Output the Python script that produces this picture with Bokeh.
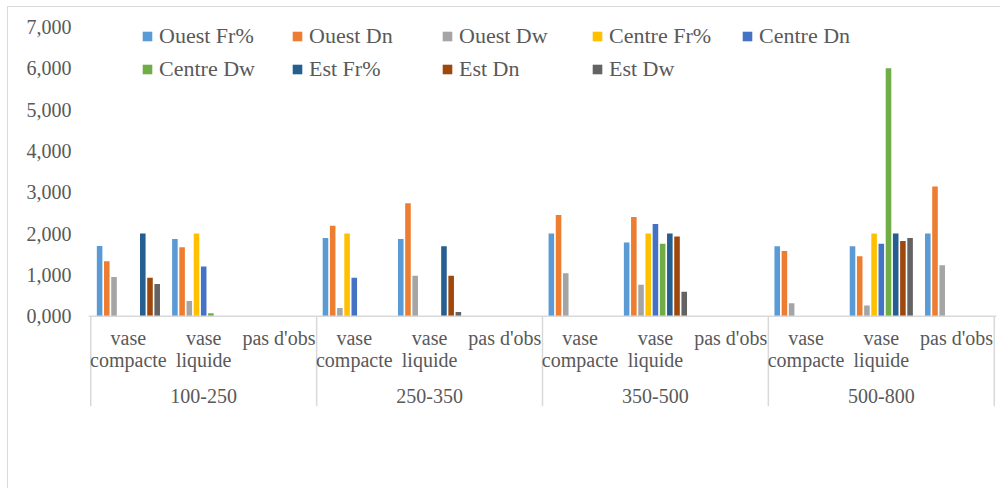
import math
from bokeh.plotting import figure
from bokeh.models import (Range1d, FixedTicker, CustomJSTickFormatter, Span,
                          Legend, LegendItem)
from bokeh.embed import file_html
from bokeh.resources import INLINE
from bokeh.core.properties import value

NaN = float("nan")

# ---------------- data ----------------
groups = ["100-250", "250-350", "350-500", "500-800"]
subcats = ["vase\ncompacte", "vase\nliquide", "pas d'obs"]

series = ["Ouest Fr%", "Ouest Dn", "Ouest Dw",
          "Centre Fr%", "Centre Dn", "Centre Dw",
          "Est Fr%", "Est Dn", "Est Dw"]
colors = ["#5B9BD5", "#ED7D31", "#A5A5A5",
          "#FFC000", "#4472C4", "#70AD47",
          "#255E91", "#9E480E", "#636363"]

# one value per (group, subcategory), in group order
ouest_fr = [1.70, 1.87, NaN, 1.89, 1.87, NaN, 2.00, 1.78, NaN, 1.69, 1.69, 2.00]
ouest_dn = [1.33, 1.67, NaN, 2.19, 2.73, NaN, 2.45, 2.40, NaN, 1.58, 1.45, 3.14]
ouest_dw = [0.95, 0.37, NaN, 0.20, 0.98, NaN, 1.04, 0.76, NaN, 0.31, 0.26, 1.23]
centre_fr = [NaN, 2.00, NaN, 2.00, NaN, NaN, NaN, 2.00, NaN, NaN, 2.00, NaN]
centre_dn = [NaN, 1.20, NaN, 0.93, NaN, NaN, NaN, 2.23, NaN, NaN, 1.75, NaN]
centre_dw = [NaN, 0.07, NaN, NaN, NaN, NaN, NaN, 1.75, NaN, NaN, 6.00, NaN]
est_fr = [2.00, NaN, NaN, NaN, 1.69, NaN, NaN, 2.00, NaN, NaN, 2.00, NaN]
est_dn = [0.93, NaN, NaN, NaN, 0.98, NaN, NaN, 1.93, NaN, NaN, 1.82, NaN]
est_dw = [0.78, NaN, NaN, NaN, 0.10, NaN, NaN, 0.59, NaN, NaN, 1.89, NaN]

values = [ouest_fr, ouest_dn, ouest_dw, centre_fr, centre_dn, centre_dw,
          est_fr, est_dn, est_dw]

y_ticks = [0, 1, 2, 3, 4, 5, 6, 7]

# ---------------- style ----------------
FONT = "Liberation Serif"
TXT = "#595959"
LINE = "#d9d9d9"

n_sub = len(subcats)
n_cat = len(groups) * n_sub
n_ser = len(series)
slot = 0.0956
bar_w = 0.074

p = figure(frame_width=908, frame_height=405,
           x_range=Range1d(-0.03, n_cat + 0.03), y_range=Range1d(-2.5, 7.3),
           output_backend="svg", toolbar_location=None, x_axis_location=None,
           min_border_left=80, min_border_right=4, min_border_top=7,
           min_border_bottom=69)
p.outline_line_color = None
p.xgrid.visible = False
p.ygrid.visible = False
p.background_fill_color = "white"
p.border_fill_color = "white"
p.styles = {"border-top": "1px solid #d9d9d9", "border-left": "1px solid #d9d9d9",
            "margin-left": "7px", "margin-top": "6px"}

ax = p.yaxis[0]
ax.ticker = FixedTicker(ticks=y_ticks)
ax.formatter = CustomJSTickFormatter(code="return tick.toFixed(3).replace('.', ',');")
ax.axis_line_color = None
ax.major_tick_line_color = None
ax.minor_tick_line_color = None
ax.major_tick_out = 0
ax.major_tick_in = 0
ax.major_label_standoff = 17
ax.major_label_text_font = FONT
ax.major_label_text_font_size = "20px"
ax.major_label_text_color = TXT

# bars
proxies = []
for k, (vals, col) in enumerate(zip(values, colors)):
    xs = [i + 0.5 + (k - (n_ser - 1) / 2) * slot for i in range(n_cat)]
    p.vbar(x=xs, top=vals, bottom=0, width=bar_w,
           fill_color=col, line_color=None)
    # square swatch used only for the legend (its single point is NaN, so not drawn)
    proxies.append(p.scatter(x=[NaN], y=[NaN], marker="square", size=10,
                             fill_color=col, line_color=None))

# category axis (Excel multi-level style)
p.add_layout(Span(location=0, dimension="width", line_color=LINE, line_width=1.5))
bounds = [g * n_sub for g in range(len(groups) + 1)]
p.segment(x0=bounds, x1=bounds, y0=[0] * len(bounds), y1=[-2.18] * len(bounds),
          line_color=LINE, line_width=1.5)

sub_x = [i + 0.5 for i in range(n_cat)]
sub_t = [subcats[i % n_sub] for i in range(n_cat)]
p.text(x=sub_x, y=[-0.27] * n_cat, text=sub_t, text_align="center",
       text_baseline="top", text_font=value(FONT), text_font_size="20px",
       text_color=TXT, text_line_height=1.0)

grp_x = [g * n_sub + n_sub / 2 for g in range(len(groups))]
p.text(x=grp_x, y=[-1.94] * len(groups), text=groups, text_align="center",
       text_baseline="middle", text_font=value(FONT), text_font_size="20px",
       text_color=TXT)

# legend
items = [LegendItem(label=s, renderers=[r]) for s, r in zip(series, proxies)]
legend = Legend(items=items, orientation="horizontal", nrows=2,
                location=(47, 337), padding=0, margin=0, spacing=7,
                glyph_width=24, glyph_height=24, label_standoff=0,
                label_width=119, label_text_font=FONT,
                label_text_font_size="22px", label_text_color=TXT,
                border_line_color=None, background_fill_alpha=0)
p.add_layout(legend, "center")

open("out.html", "w").write(file_html(p, INLINE))
